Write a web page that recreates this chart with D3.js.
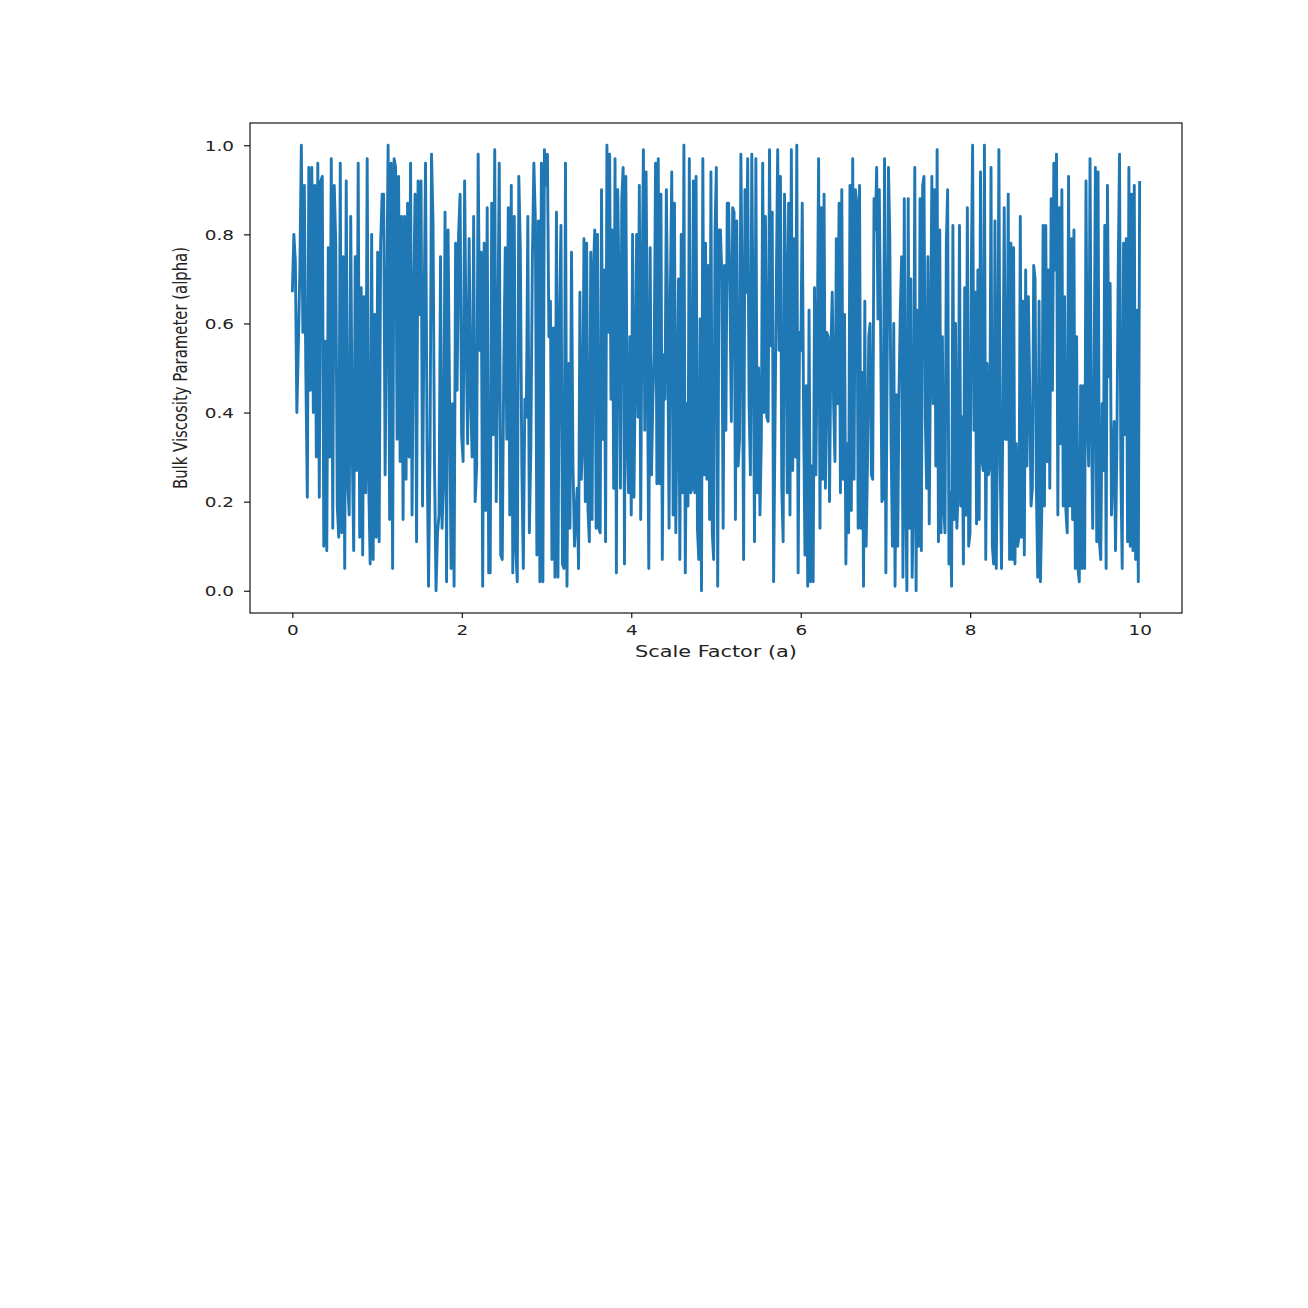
<!DOCTYPE html>
<meta charset="utf-8">
<style>
body { margin: 0; background: white; }
text { font-family: "DejaVu Sans", sans-serif; fill: #222; }
</style>
<svg width="1308" height="1308"></svg>
<script src="https://d3js.org/d3.v7.min.js"></script>
<script>

// alpha values, stretch by stretch (left to right)
var alphaPart1 = [0.67,0.80,0.74,0.40,0.55,0.72,1.00,0.58,0.91,0.49,0.21,0.95,0.45,0.95,0.40,0.91,0.30,0.96,0.21,0.92,0.93,0.10,0.56,0.09,0.77,0.30,0.97,0.14,0.91,0.78,0.19,0.12,0.96,0.13,0.75,0.05,0.92,0.24,0.17,0.84,0.32,0.09,0.75,0.27,0.96,0.12,0.68,0.08,0.66,0.22,0.97,0.25,0.06,0.80,0.07,0.62,0.12,0.76,0.11,0.78,0.89,0.89,0.26,0.64,1.00,0.16,0.96,0.05,0.97,0.95,0.34,0.93,0.29,0.84,0.16,0.84,0.25,0.87,0.30,0.96,0.17,0.64,0.89,0.11,0.92,0.62,0.92,0.19,0.62,0.96,0.34,0.01,0.30,0.98];
var alphaPart2 = [0.83,0.28,0.00,0.13,0.17,0.75,0.14,0.25,0.85,0.02,0.81,0.43,0.05,0.42,0.01,0.78,0.45,0.80,0.89,0.35,0.29,0.92,0.56,0.33,0.79,0.43,0.30,0.84,0.20,0.28,0.98,0.54,0.76,0.01,0.78,0.18,0.86,0.04,0.04,0.87,0.35,0.99,0.20,0.54,0.96,0.08,0.07,0.50,0.77,0.34,0.86,0.17,0.91,0.04,0.84,0.09,0.02,0.93,0.77,0.28,0.05,0.43,0.39,0.84,0.13,0.32,0.74,0.96,0.83,0.08,0.83,0.02,0.96,0.02,0.99,0.91,0.98,0.57,0.65,0.07,0.59,0.03,0.85,0.03,0.59,0.82,0.06,0.05,0.96,0.01,0.51,0.14,0.76,0.28];
var alphaPart3 = [0.10,0.17,0.23,0.05,0.67,0.25,0.33,0.79,0.20,0.78,0.18,0.11,0.76,0.16,0.72,0.81,0.14,0.80,0.14,0.13,0.90,0.34,0.72,0.11,1.00,0.58,0.98,0.43,0.81,0.23,0.97,0.04,0.90,0.67,0.23,0.88,0.95,0.06,0.93,0.36,0.22,0.57,0.17,0.80,0.21,0.49,0.80,0.39,0.91,0.16,0.66,0.99,0.36,0.94,0.50,0.05,0.77,0.26,0.43,0.53,0.96,0.24,0.97,0.24,0.89,0.07,0.53,0.43,0.90,0.59,0.14,0.68,0.94,0.17,0.87,0.13,0.42,0.70,0.07,0.80,0.22,1.00,0.04,0.42,0.19,0.97,0.22,0.23,0.92,0.22,0.93,0.14,0.07,0.61,0.00,0.97,0.26,0.78,0.25,0.73,0.16,0.94,0.13,0.07,0.80,0.95];
var alphaPart4 = [0.01,0.81,0.81,0.71,0.14,0.73,0.36,0.87,0.87,0.66,0.38,0.86,0.85,0.16,0.83,0.28,0.34,0.98,0.64,0.07,0.90,0.67,0.97,0.42,0.26,0.98,0.58,0.11,0.97,0.22,0.50,0.17,0.34,0.96,0.40,0.84,0.39,0.38,0.99,0.55,0.85,0.02,0.36,0.69,0.99,0.54,0.93,0.23,0.11,0.89,0.69,0.22,0.87,0.17,0.99,0.27,0.79,0.30,1.00,0.04,0.58,0.54,0.87,0.39,0.08,0.46,0.01,0.63,0.02,0.28,0.02,0.68,0.26,0.55,0.97,0.14,0.86,0.25,0.89,0.23,0.58,0.57,0.20,0.54,0.67,0.42,0.29,0.79,0.42,0.87,0.22,0.90,0.25,0.62,0.06,0.33,0.13,0.91,0.18,0.97,0.25,0.90,0.87,0.14,0.91];
var alphaPart5 = [0.14,0.49,0.01,0.65,0.10,0.28,0.57,0.60,0.26,0.25,0.88,0.81,0.95,0.61,0.90,0.60,0.20,0.21,0.97,0.04,0.51,0.95,0.79,0.33,0.10,0.60,0.01,0.44,0.10,0.44,0.63,0.75,0.03,0.88,0.23,0.00,0.88,0.14,0.70,0.03,0.22,0.95,0.00,0.63,0.10,0.88,0.09,0.91,0.93,0.39,0.23,0.75,0.15,0.55,0.93,0.42,0.90,0.28,0.99,0.11,0.81,0.13,0.57,0.19,0.13,0.78,0.90,0.06,0.22,0.01,0.82,0.16,0.60,0.14,0.22,0.82,0.19,0.39,0.06,0.68,0.17,0.86,0.10,0.13,0.72,1.00,0.36,0.67,0.15,0.72,0.16,0.94,0.30,0.27,1.00,0.07,0.51,0.26,0.28,0.95,0.10,0.06,0.83,0.05,0.39,0.99,0.28];
var alphaPart6 = [0.05,0.40,0.86,0.34,0.34,0.89,0.07,0.78,0.07,0.77,0.06,0.33,0.10,0.12,0.84,0.12,0.65,0.08,0.72,0.28,0.66,0.46,0.19,0.23,0.73,0.70,0.23,0.03,0.65,0.02,0.18,0.82,0.19,0.82,0.29,0.72,0.23,0.88,0.45,0.96,0.72,0.98,0.17,0.86,0.33,0.90,0.19,0.66,0.18,0.13,0.93,0.19,0.79,0.16,0.81,0.05,0.57,0.05,0.02,0.46,0.05,0.46,0.05,0.92,0.39,0.28,0.97,0.40,0.14,0.45,0.95,0.11,0.94,0.11,0.07,0.42,0.27,0.82,0.05,0.91,0.48,0.69,0.17,0.28,0.38,0.09,0.32,0.71,0.98,0.27,0.05,0.78,0.35,0.79,0.11,0.95,0.10,0.89,0.09,0.91,0.07,0.63,0.02,0.92];
// scale factor where each stretch starts / ends
var partBreaks = [0, 1.66, 3.33, 5.02, 6.71, 8.37, 10];

var xTicks = [0, 2, 4, 6, 8, 10];
var yTicks = [0.0, 0.2, 0.4, 0.6, 0.8, 1.0];

var svg = d3.select("svg");
var plotLeft = 250, plotRight = 1182, plotTop = 123, plotBottom = 613;
var sx = 1.27; // the picture is stretched sideways, text too

var x = d3.scaleLinear().domain([-0.5, 10.5]).range([plotLeft, plotRight]);
var y = d3.scaleLinear().domain([-0.05, 1.05]).range([plotBottom, plotTop]);

// build the points: each stretch spread evenly over its own range
var parts = [alphaPart1, alphaPart2, alphaPart3, alphaPart4, alphaPart5, alphaPart6];
var points = [];
parts.forEach(function(vals, k) {
  var last = k == parts.length - 1;
  var pos = d3.scaleLinear().domain([0, last ? vals.length - 1 : vals.length]).range([partBreaks[k], partBreaks[k + 1]]);
  vals.forEach(function(v, i) { points.push([pos(i), v]); });
});

var line = d3.line().x(function(d) { return x(d[0]); }).y(function(d) { return y(d[1]); });

svg.append("path")
    .datum(points)
    .attr("d", line)
    .attr("fill", "none")
    .attr("stroke", "#1f77b4")
    .attr("stroke-width", 2.9)
    .attr("stroke-linejoin", "round");

// frame
svg.append("rect")
    .attr("x", plotLeft).attr("y", plotTop)
    .attr("width", plotRight - plotLeft).attr("height", plotBottom - plotTop)
    .attr("fill", "none").attr("stroke", "#000").attr("stroke-width", 1.1);

// x axis
var xa = svg.append("g").attr("transform", "translate(0," + plotBottom + ")")
    .call(d3.axisBottom(x).tickValues(xTicks).tickFormat(d3.format("d")).tickSize(5).tickSizeOuter(0));
xa.select(".domain").remove();
xa.selectAll("line").attr("stroke", "#000").attr("stroke-width", 1.1);
xa.selectAll("text")
    .attr("y", null).attr("dy", null)
    .attr("transform", "translate(0,22) scale(" + sx + ",1)")
    .style("font-size", "14.5px").style("font-family", "DejaVu Sans").attr("fill", "#222");

// y axis
var ya = svg.append("g").attr("transform", "translate(" + plotLeft + ",0)")
    .call(d3.axisLeft(y).tickValues(yTicks).tickFormat(d3.format(".1f")).tickSize(6).tickSizeOuter(0));
ya.select(".domain").remove();
ya.selectAll("line").attr("stroke", "#000").attr("stroke-width", 1.1);
ya.selectAll("text")
    .attr("x", null).attr("dy", null)
    .attr("transform", "translate(-16,5) scale(" + sx + ",1)")
    .style("font-size", "14.5px").style("font-family", "DejaVu Sans").attr("fill", "#222");

// axis titles
svg.append("text")
    .attr("transform", "translate(716,657) scale(" + sx + ",1)")
    .attr("text-anchor", "middle")
    .style("font-size", "15px")
    .attr("fill", "#222")
    .attr("textLength", 162 / sx).attr("lengthAdjust", "spacingAndGlyphs")
    .text("Scale Factor (a)");

svg.append("text")
    .attr("transform", "translate(187,368) scale(" + sx + ",1) rotate(-90)")
    .attr("text-anchor", "middle")
    .style("font-size", "15px")
    .attr("fill", "#222")
    .attr("textLength", 242).attr("lengthAdjust", "spacingAndGlyphs")
    .text("Bulk Viscosity Parameter (alpha)");

</script>
